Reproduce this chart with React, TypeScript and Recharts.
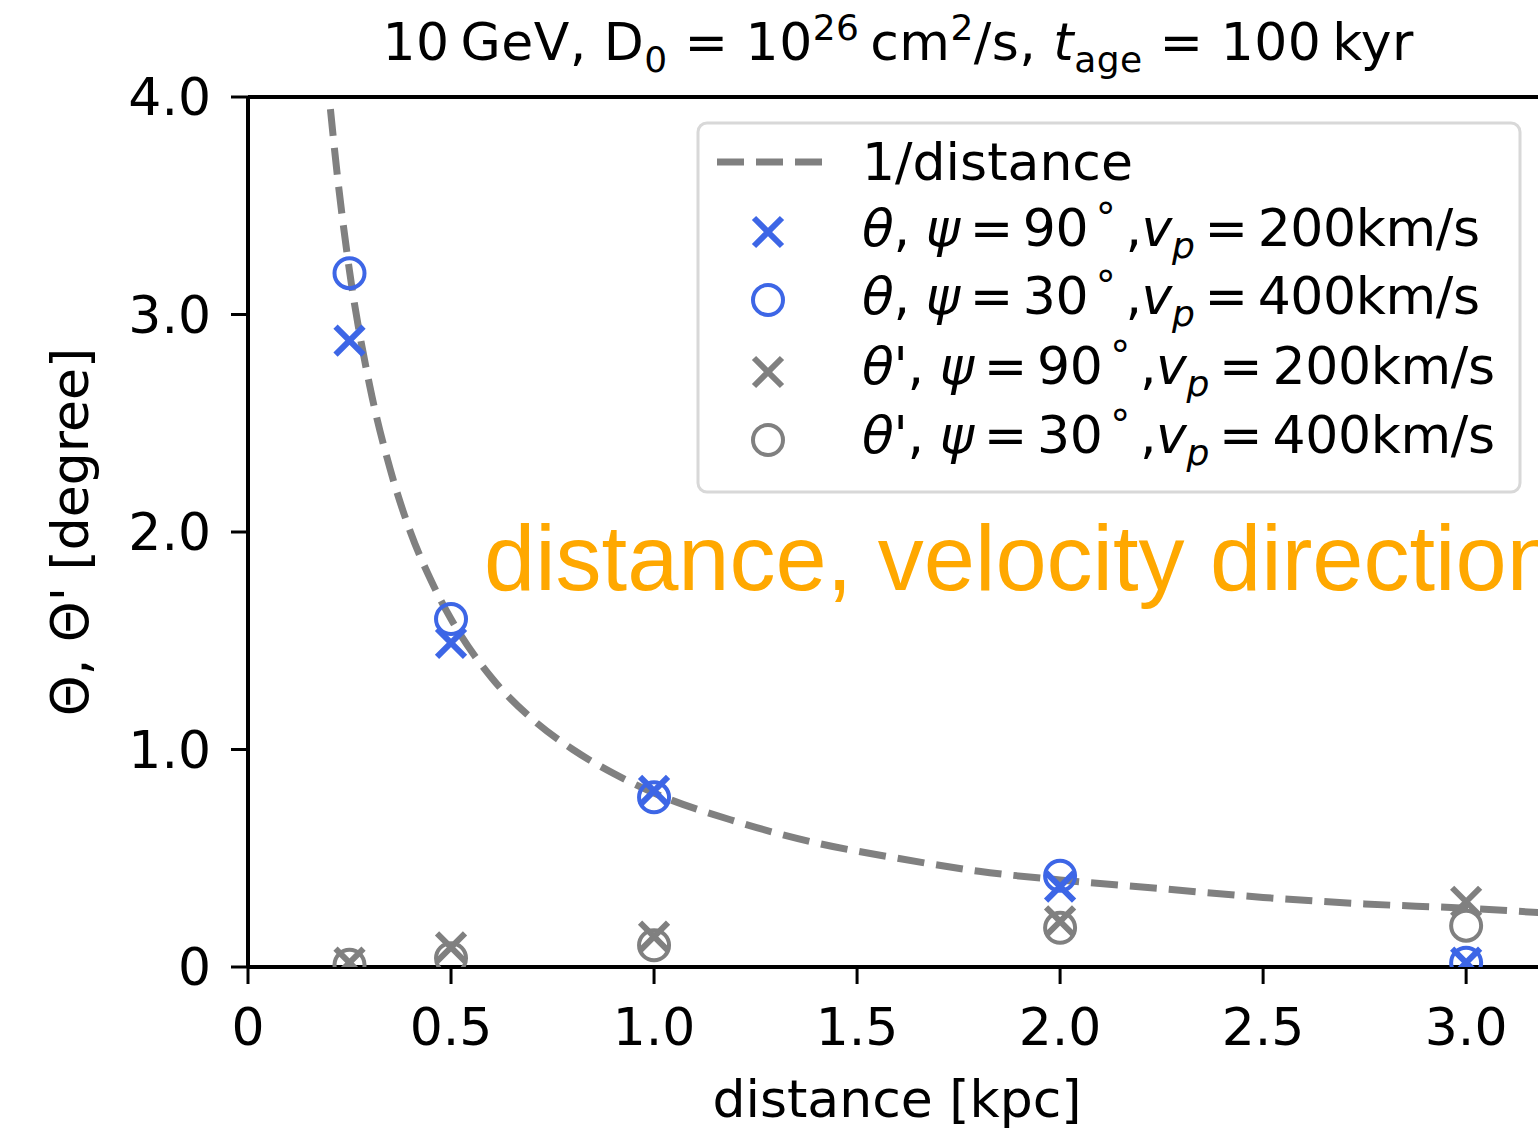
import { ComposedChart, Line, Scatter, XAxis, YAxis, ReferenceLine } from 'recharts';

const distances = [0.25, 0.5, 1.0, 2.0, 3.0];
const thetaPsi90 = [2.88, 1.49, 0.81, 0.37, 0.02];
const thetaPsi30 = [3.19, 1.6, 0.78, 0.42, 0.02];
const thetaPrimePsi90 = [0.02, 0.09, 0.14, 0.21, 0.3];
const thetaPrimePsi30 = [0.01, 0.04, 0.1, 0.18, 0.19];

// 1/distance reference curve
const curveDistances = [0.2, 0.22, 0.25, 0.3, 0.35, 0.4, 0.45, 0.5, 0.6, 0.7, 0.8, 0.9, 1.0, 1.2, 1.4, 1.6, 1.8, 2.0, 2.25, 2.5, 2.75, 3.0, 3.18];
const curveValues = [4.0, 3.64, 3.2, 2.67, 2.29, 2.0, 1.78, 1.6, 1.33, 1.14, 1.0, 0.89, 0.8, 0.67, 0.57, 0.5, 0.44, 0.4, 0.36, 0.32, 0.29, 0.27, 0.25];

const xTicks = [0, 0.5, 1.0, 1.5, 2.0, 2.5, 3.0];
const yTicks = [0, 1.0, 2.0, 3.0, 4.0];

const BLUE = '#3d66e6';
const GRAY = '#808080';
const FONT = '"DejaVu Sans", sans-serif';

const toPoints = (ys: number[]) => distances.map((d, i) => ({ d, v: ys[i] }));
const curve = curveDistances.map((d, i) => ({ d, v: curveValues[i] }));

const crossShape = (color: string) => (props: any) => {
  const { cx, cy } = props;
  const s = 14;
  return (
    <path
      d={`M${cx - s},${cy - s}L${cx + s},${cy + s}M${cx - s},${cy + s}L${cx + s},${cy - s}`}
      stroke={color}
      strokeWidth={6}
      fill="none"
    />
  );
};

const circleShape = (color: string) => (props: any) => {
  const { cx, cy } = props;
  return <circle cx={cx} cy={cy} r={15} fill="none" stroke={color} strokeWidth={4} />;
};

const fmt = (v: number) => (v === 0 ? '0' : v.toFixed(1));

const LegendRow = ({ y, prime, psi, vp }: { y: number; prime: boolean; psi: number; vp: number }) => (
  <text
    x={862}
    y={y}
    fontSize={52}
    fontFamily={FONT}
    fill="#000"
    textLength={prime ? 633 : 618}
    lengthAdjust="spacing"
  >
    <tspan fontStyle="italic">θ</tspan>
    {prime ? "'" : ''}, <tspan fontStyle="italic">ψ</tspan>{'\u2009=\u2009'}{psi}
    <tspan fontSize={40} dy={-14}>{'\u2009°'}</tspan>
    <tspan dy={14}>{'\u2009,'}</tspan>
    <tspan fontStyle="italic">v</tspan>
    <tspan fontStyle="italic" fontSize={36} dy={12}>p</tspan>
    <tspan dy={-12}>{'\u2009=\u2009'}{vp}km/s</tspan>
  </text>
);

const App = () => {
  return (
    <div style={{ position: 'absolute', left: 0, top: 0, width: 1538, height: 1132, overflow: 'hidden', background: '#fff' }}>
      <ComposedChart width={1538} height={1132} margin={{ top: 97, right: 0, bottom: 0, left: 0 }}>
        <XAxis
          dataKey="d"
          type="number"
          domain={[0, 3.177]}
          ticks={xTicks}
          tickFormatter={fmt}
          allowDataOverflow
          height={165}
          tickSize={17}
          tickMargin={24}
          axisLine={{ stroke: '#000', strokeWidth: 4 }}
          tickLine={{ stroke: '#000', strokeWidth: 3 }}
          tick={{ fontSize: 52, fill: '#000', fontFamily: FONT }}
        />
        <YAxis
          type="number"
          domain={[0, 4]}
          ticks={yTicks}
          tickFormatter={fmt}
          allowDataOverflow
          width={248}
          tickSize={17}
          tickMargin={20}
          axisLine={{ stroke: '#000', strokeWidth: 4 }}
          tickLine={{ stroke: '#000', strokeWidth: 3 }}
          tick={{ fontSize: 52, fill: '#000', fontFamily: FONT }}
        />
        <ReferenceLine y={4} stroke="#000" strokeWidth={4} />
        <Scatter data={toPoints(thetaPsi90)} dataKey="v" shape={crossShape(BLUE)} isAnimationActive={false} />
        <Scatter data={toPoints(thetaPsi30)} dataKey="v" shape={circleShape(BLUE)} isAnimationActive={false} />
        <Scatter data={toPoints(thetaPrimePsi90)} dataKey="v" shape={crossShape(GRAY)} isAnimationActive={false} />
        <Scatter data={toPoints(thetaPrimePsi30)} dataKey="v" shape={circleShape(GRAY)} isAnimationActive={false} />
        <Line
          data={curve}
          dataKey="v"
          type="monotone"
          stroke={GRAY}
          strokeWidth={7}
          strokeDasharray="0 12 27 0"
          dot={false}
          isAnimationActive={false}
        />
      </ComposedChart>

      <svg width={1538} height={1132} style={{ position: 'absolute', left: 0, top: 0, pointerEvents: 'none' }}>
        {/* title */}
        <text x={898} y={60} textAnchor="middle" fontSize={52} fontFamily={FONT} fill="#000" textLength={1031} lengthAdjust="spacing">
          10{'\u2009'}GeV, D<tspan fontSize={36} dy={12}>0</tspan>
          <tspan dy={-12}> = 10</tspan>
          <tspan fontSize={36} dy={-20}>26</tspan>
          <tspan dy={20}>{'\u2009'}cm</tspan>
          <tspan fontSize={36} dy={-20}>2</tspan>
          <tspan dy={20}>/s, </tspan>
          <tspan fontStyle="italic">t</tspan>
          <tspan fontSize={36} dy={12}>age</tspan>
          <tspan dy={-12}> = 100{'\u2009'}kyr</tspan>
        </text>

        {/* axis labels */}
        <text x={897} y={1117} textAnchor="middle" fontSize={52} fontFamily={FONT} fill="#000">
          distance [kpc]
        </text>
        <text
          x={70}
          y={532}
          textAnchor="middle"
          dominantBaseline="central"
          transform="rotate(-90 70 532)"
          fontSize={52}
          fontFamily={FONT}
          fill="#000"
        >
          Θ, Θ' [degree]
        </text>

        {/* annotation */}
        <text x={484} y={590} fontSize={92} fontFamily='"Liberation Sans", Arial, sans-serif' fill="#ffa800">
          distance, velocity direction
        </text>

        {/* legend */}
        <rect x={698} y={123} width={822} height={369} rx={9} fill="#fff" fillOpacity={0.85} stroke="#d8d8d8" strokeWidth={3} />
        <line x1={717} y1={162} x2={822} y2={162} stroke={GRAY} strokeWidth={7} strokeDasharray="27 12" />
        <text x={862} y={180} fontSize={52} fontFamily={FONT} fill="#000">1/distance</text>
        <path d="M754,218L782,246M754,246L782,218" stroke={BLUE} strokeWidth={6} />
        <LegendRow y={246} prime={false} psi={90} vp={200} />
        <circle cx={768} cy={300} r={15} fill="none" stroke={BLUE} strokeWidth={4} />
        <LegendRow y={314} prime={false} psi={30} vp={400} />
        <path d="M754,358L782,386M754,386L782,358" stroke={GRAY} strokeWidth={6} />
        <LegendRow y={384} prime psi={90} vp={200} />
        <circle cx={768} cy={440} r={15} fill="none" stroke={GRAY} strokeWidth={4} />
        <LegendRow y={453} prime psi={30} vp={400} />
      </svg>
    </div>
  );
};

export default App;
